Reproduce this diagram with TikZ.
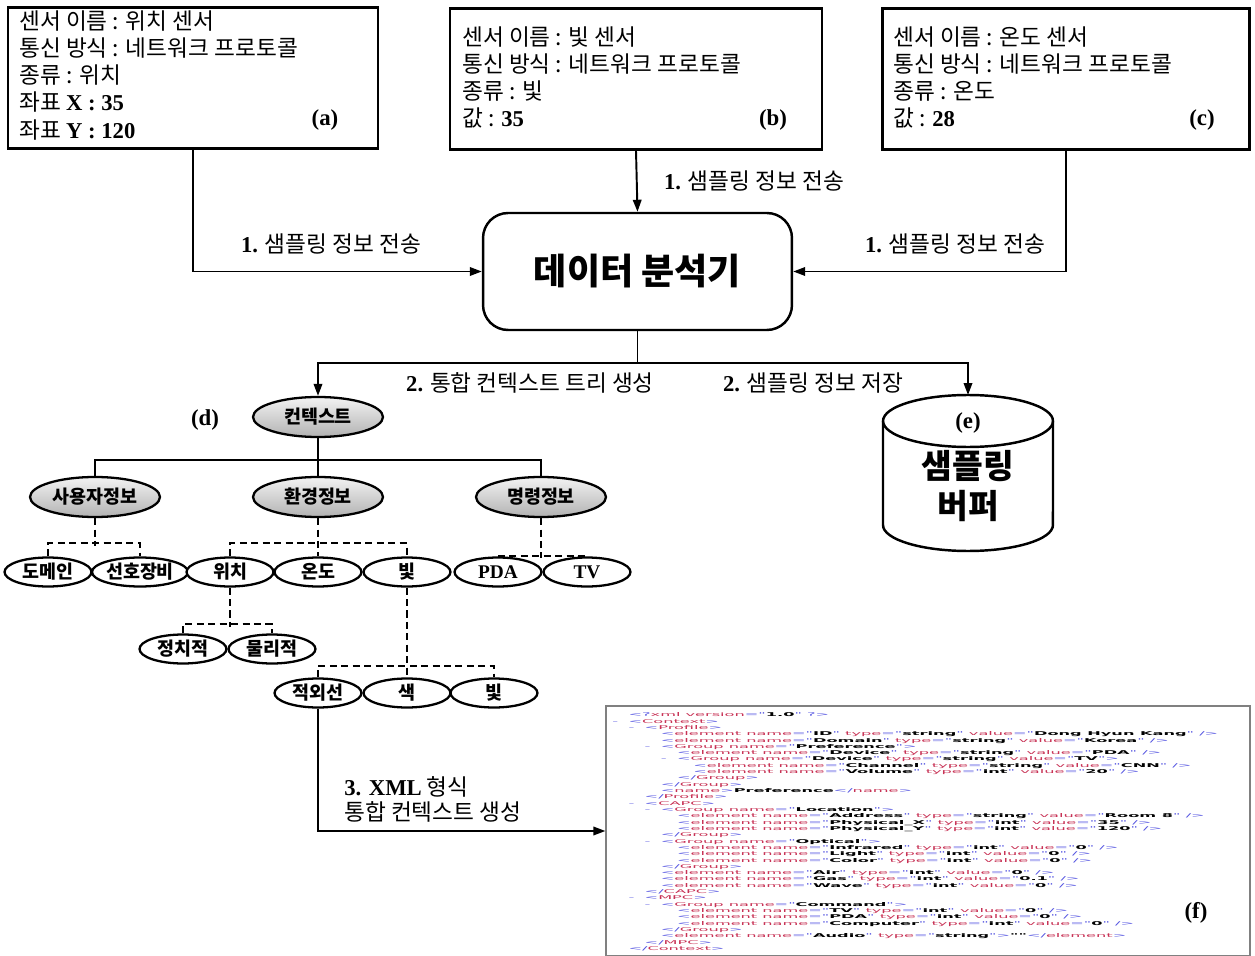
\documentclass[tikz,border=0pt]{standalone}
\usepackage{fontspec}
\usepackage{graphicx}
\setmainfont{Noto Sans CJK KR}
\newfontfamily\tnr{Liberation Serif}
\newfontfamily\xmlfont{DejaVu Sans}
\usetikzlibrary{arrows.meta,shapes.geometric}

\definecolor{xmlblue}{RGB}{80,80,225}
\definecolor{xmlred}{RGB}{200,50,85}

\newcommand{\bnum}[1]{{\tnr\bfseries #1}}
% xml view tokens
\newcommand{\xt}[1]{\textcolor{xmlblue}{#1}}
\newcommand{\xn}[1]{\textcolor{xmlred}{#1}}
\newcommand{\xv}[1]{\textbf{#1}}
\newcommand{\lv}[1]{\hspace*{#1em}}
\newcommand{\lm}[1]{\hspace*{\dimexpr#1em-1em\relax}\makebox[1em][l]{\xt{-}}}
\newcommand{\xo}[1]{\xt{<}\xn{#1}\xt{>}}
\newcommand{\xc}[1]{\xt{</}\xn{#1}\xt{>}}
\newcommand{\xg}[1]{\xt{<}\xn{Group name}\xt{="}\xv{#1}\xt{">}}
\newcommand{\xe}[3]{\xt{<}\xn{element name}\xt{="}\xv{#1}\xt{"} \xn{type}\xt{="}\xv{#2}\xt{"} \xn{value}\xt{="}\xv{#3}\xt{" />}}

\begin{document}
\begin{tikzpicture}[x=0.02cm,y=-0.02cm,
  sensor/.style={draw,line width=1.4pt,minimum height=2.82cm,inner sep=0pt},
  txt/.style={align=left,inner sep=0pt,font=\fontsize{12.9}{15.5}\selectfont},
  lbl/.style={inner sep=1pt,font=\fontsize{12.9}{14}\selectfont},
  tag/.style={inner sep=0pt,font=\tnr\bfseries\fontsize{13}{15}\selectfont},
  arr/.style={line width=1.1pt,-{Triangle[length=0.24cm,width=0.17cm]}},
  upper/.style={ellipse,draw,line width=1.3pt,top color=gray!10,bottom color=gray!60,
    minimum width=2.6cm,minimum height=0.8cm,inner sep=0pt,font=\bfseries\fontsize{10.5}{11}\selectfont},
  leaf/.style={ellipse,draw,line width=1.3pt,fill=white,minimum width=1.74cm,
    minimum height=0.58cm,inner sep=0pt,font=\bfseries\fontsize{10.5}{11}\selectfont},
  dsh/.style={line width=1pt,dash pattern=on 4pt off 2.5pt}]
\useasboundingbox (0,0) rectangle (1255,956);
\fill[white] (0,0) rectangle (1255,956);

% sensors
\node[sensor,minimum width=7.4cm] (sa) at (193,78) {};
\node[sensor,minimum width=7.44cm] (sb) at (636,79) {};
\node[sensor,minimum width=7.34cm] (sc) at (1066,79) {};
\node[txt,anchor=north west] (ta) at (19,10) {센서 이름 : 위치 센서\\통신 방식 : 네트워크 프로토콜\\종류 : 위치\\좌표 \bnum{X : 35}\\좌표 \bnum{Y : 120}};
\node[txt,anchor=north west] (tb) at (462,26) {센서 이름 : 빛 센서\\통신 방식 : 네트워크 프로토콜\\종류 : 빛\\값 : \bnum{35}};
\node[txt,anchor=north west] (tc) at (893,26) {센서 이름 : 온도 센서\\통신 방식 : 네트워크 프로토콜\\종류 : 온도\\값 : \bnum{28}};
\node[tag] (a) at (325,120) {(a)};
\node[tag] (b) at (773,120) {(b)};
\node[tag] (c) at (1202,120) {(c)};

% analyzer
\node[draw,line width=1.4pt,rounded corners=0.5cm,minimum width=6.18cm,minimum height=2.34cm,
  font=\bfseries\fontsize{20.5}{24}\selectfont] (ana) at (637.5,271.5) {데이터 분석기};
\draw[arr] (sa.south) |- (ana.west);
\draw[arr] (sb.south) -- (ana.north);
\draw[arr] (sc.south) |- (ana.east);
\node[lbl] (l1a) at (331,244) {\bnum{1.} 샘플링 정보 전송};
\node[lbl] (l1b) at (754,181) {\bnum{1.} 샘플링 정보 전송};
\node[lbl] (l1c) at (955,244) {\bnum{1.} 샘플링 정보 전송};

% buffer
\draw[line width=1.4pt,fill=white] (883,421) -- (883,525)
  arc[start angle=180,end angle=360,x radius=1.7cm,y radius=0.52cm] -- (1053,421);
\draw[line width=1.4pt] (968,421) ellipse[x radius=1.7cm,y radius=0.52cm];
\coordinate (buftop) at (968,395);
\node[tag] (e) at (968,423) {(e)};
\node[align=center,inner sep=0pt,font=\bfseries\fontsize{19}{22.7}\selectfont] (buf) at (968,486) {샘플링\\버퍼};

% context tree
\node[upper] (ctx) at (318,417) {컨텍스트};
\node[tag] (d) at (205,420) {(d)};
\draw[arr] (ana.south) -- ++(0,32) -| (ctx.north);
\draw[arr] (ana.south) -- ++(0,32) -| (buftop);
\node[lbl] (l2a) at (530,383) {\bnum{2.} 통합 컨텍스트 트리 생성};
\node[lbl] (l2b) at (813,383) {\bnum{2.} 샘플링 정보 저장};

\node[upper] (user) at (95,497) {사용자정보};
\node[upper] (env) at (318,497) {환경정보};
\node[upper] (cmd) at (541,497) {명령정보};
\draw[line width=1.3pt] (ctx) -- (env);
\draw[line width=1.3pt] (user.north) -- ++(0,-16) -| (cmd.north);

\node[leaf] (dom) at (48,572) {도메인};
\node[leaf] (pref) at (140,572) {선호장비};
\node[leaf] (loc) at (230,572) {위치};
\node[leaf] (temp) at (318,572) {온도};
\node[leaf] (light) at (407,572) {빛};
\node[leaf,font=\tnr\bfseries\fontsize{11}{12}\selectfont] (pda) at (498,572) {PDA};
\node[leaf,font=\tnr\bfseries\fontsize{11}{12}\selectfont] (tv) at (587,572) {TV};
\draw[dsh] (user.south) -- ++(0,28);
\draw[dsh] (dom.north) -- ++(0,-13) -| (pref.north);
\draw[dsh] (env) -- (temp);
\draw[dsh] (loc.north) -- ++(0,-13) -| (light.north);
\draw[dsh] (cmd.south) -- ++(0,40);
\draw[dsh] (pda.north) -- (tv.north);

\node[leaf] (logi) at (183,649) {정치적};
\node[leaf] (phys) at (272,649) {물리적};
\draw[dsh] (loc.south) -- ++(0,39);
\draw[dsh] (logi.north) -- ++(0,-9) -| (phys.north);

\node[leaf] (ir) at (318,693) {적외선};
\node[leaf] (col) at (407,693) {색};
\node[leaf] (lt) at (494,693) {빛};
\draw[dsh] (light) -- (col);
\draw[dsh] (ir.north) -- ++(0,-11) -| (lt.north);

% xml output
\node[draw=gray,line width=0.8pt,minimum width=12.88cm,minimum height=5cm,inner sep=0pt] (xmlbox) at (928,831) {};
\draw[arr] (ir.south) |- (xmlbox.west);
\node[txt,anchor=north west,font=\fontsize{12.9}{14.3}\selectfont] (l3) at (344,776) {\bnum{3. XML} 형식\\통합 컨텍스트 생성};
\node[anchor=north west,inner sep=0pt] (xml) at (612,712) {\resizebox*{12.12cm}{4.8cm}{\xmlfont\fontsize{6}{7.2}\selectfont
\begin{tabular}{@{}l@{}}
\lv{1}\xt{<?}\xn{xml version}\xt{="}\xv{1.0}\xt{" ?>}\\
\lm{1}\xo{Context}\\
\lm{2}\xo{Profile}\\
\lv{3}\xe{ID}{string}{Dong Hyun Kang}\\
\lv{3}\xe{Domain}{string}{Korea}\\
\lm{3}\xg{Preference}\\
\lv{4}\xe{Device}{string}{PDA}\\
\lm{4}\xt{<}\xn{Group name}\xt{="}\xv{Device}\xt{"} \xn{type}\xt{="}\xv{string}\xt{"} \xn{value}\xt{="}\xv{TV}\xt{">}\\
\lv{5}\xe{Channel}{string}{CNN}\\
\lv{5}\xe{Volume}{int}{20}\\
\lv{4}\xc{Group}\\
\lv{3}\xc{Group}\\
\lv{3}\xo{name}\xv{Preference}\xc{name}\\
\lv{2}\xc{Profile}\\
\lm{2}\xo{CAPC}\\
\lm{3}\xg{Location}\\
\lv{4}\xe{Address}{string}{Room 8}\\
\lv{4}\xe{Physical\_X}{int}{35}\\
\lv{4}\xe{Physical\_Y}{int}{120}\\
\lv{3}\xc{Group}\\
\lm{3}\xg{Optical}\\
\lv{4}\xe{Infrared}{int}{0}\\
\lv{4}\xe{Light}{int}{0}\\
\lv{4}\xe{Color}{int}{0}\\
\lv{3}\xc{Group}\\
\lv{3}\xe{Air}{int}{0}\\
\lv{3}\xe{Gas}{int}{0.1}\\
\lv{3}\xe{Wave}{int}{0}\\
\lv{2}\xc{CAPC}\\
\lm{2}\xo{MPC}\\
\lm{3}\xg{Command}\\
\lv{4}\xe{TV}{int}{0}\\
\lv{4}\xe{PDA}{int}{0}\\
\lv{4}\xe{Computer}{int}{0}\\
\lv{3}\xc{Group}\\
\lv{3}\xt{<}\xn{element name}\xt{="}\xv{Audio}\xt{"} \xn{type}\xt{="}\xv{string}\xt{">}\xv{""}\xc{element}\\
\lv{2}\xc{MPC}\\
\lv{1}\xc{Context}
\end{tabular}}};
\node[tag] (f) at (1196,913) {(f)};
\end{tikzpicture}
\end{document}
